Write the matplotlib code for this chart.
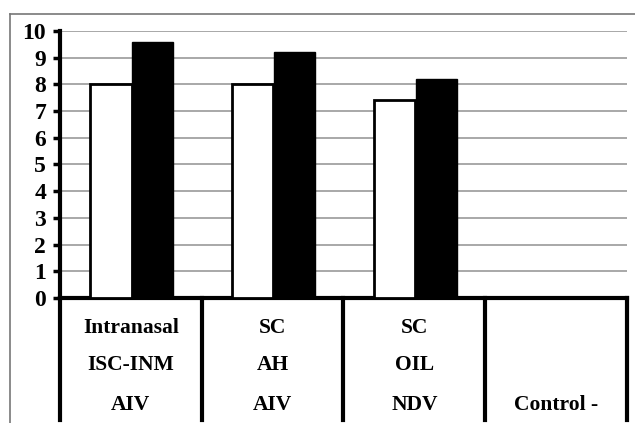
import numpy as np
import matplotlib.pyplot as plt
from matplotlib.lines import Line2D

line1 = ['Intranasal', 'SC', 'SC', '']
line2 = ['ISC-INM', 'AH', 'OIL', '']
line3 = ['AIV', 'AIV', 'NDV', 'Control -']
white_vals = [8.0, 8.0, 7.4, 0]
black_vals = [9.6, 9.2, 8.2, 0]

plt.rcParams['font.family'] = ['Liberation Serif', 'DejaVu Serif']
plt.rcParams['font.weight'] = 'bold'

fig = plt.figure(figsize=(6.35, 4.23), dpi=100)
ax = fig.add_axes([60/635, 1-298/423, (627-60)/635, (298-31)/423])

# outer frame of the original image (top and left edges only)
fy = 1 - 14/423
fx = 10/635
fig.lines.append(Line2D([fx, 1.0], [fy, fy], transform=fig.transFigure, color='#777777', linewidth=1.2))
fig.lines.append(Line2D([fx, fx], [0, fy], transform=fig.transFigure, color='#777777', linewidth=1.2))

x = np.arange(len(line3))
w = 0.29
ax.bar(x - 0.14, white_vals, w, color='white', edgecolor='black', linewidth=2, zorder=3)
ax.bar(x + 0.155, black_vals, w, color='black', edgecolor='black', linewidth=1, zorder=3)

ax.set_xlim(-0.5, 3.5)
ax.set_ylim(0, 10)
ax.set_yticks(range(0, 11))
ax.yaxis.grid(True, color='#999999', linewidth=1.2)
ax.set_axisbelow(True)
ax.set_xticks([])
for s in ['top', 'right']:
    ax.spines[s].set_visible(False)
ax.spines['left'].set_linewidth(3)
ax.spines['bottom'].set_linewidth(3)
ax.tick_params(axis='y', direction='out', length=5, width=2.5, labelsize=17, pad=5)
for lab in ax.get_yticklabels():
    lab.set_fontweight('bold')

trans = ax.get_xaxis_transform()
for b in np.arange(-0.5, 4.0, 1.0):
    ax.plot([b, b], [0, -0.457], color='black', linewidth=3, transform=trans, clip_on=False)

for i in range(len(line3)):
    for txt, yy in zip([line1[i], line2[i], line3[i]], [-0.112, -0.251, -0.401]):
        ax.text(i, yy, txt, transform=trans, ha='center', va='center',
                fontsize=15.5, fontweight='bold')

fig.savefig('out.png', dpi=100)
